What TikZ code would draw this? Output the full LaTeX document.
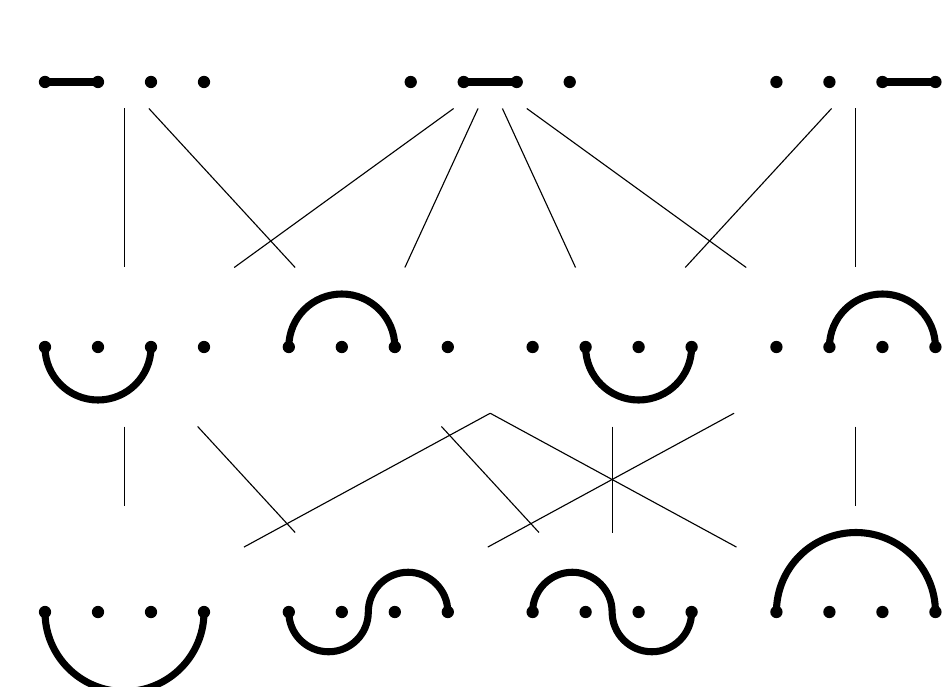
\documentclass[tikz,border=0pt]{standalone}
\usetikzlibrary{calc}
\tikzset{
  dot/.style={circle, fill=black, inner sep=0pt, minimum size=6.6pt},
  strand/.style={line width=3.8pt},
  link/.style={line width=0.6pt}
}

\begin{document}
\begin{tikzpicture}
\useasboundingbox (-0.849,-1.396) rectangle (16.943,11.547);

%% Top row
\node[dot] (t1a) at ( 0.0,10) {}; \node[dot] (t1b) at ( 1.0,10) {}; \node[dot] (t1c) at ( 2.0,10) {}; \node[dot] (t1d) at ( 3.0,10) {};
\node[dot] (t2a) at ( 6.9,10) {}; \node[dot] (t2b) at ( 7.9,10) {}; \node[dot] (t2c) at ( 8.9,10) {}; \node[dot] (t2d) at ( 9.9,10) {};
\node[dot] (t3a) at (13.8,10) {}; \node[dot] (t3b) at (14.8,10) {}; \node[dot] (t3c) at (15.8,10) {}; \node[dot] (t3d) at (16.8,10) {};
\coordinate (t1) at ( 1.5,10);
\coordinate (t2) at ( 8.4,10);
\coordinate (t3) at (15.3,10);

%% Middle row
\node[dot] (m1a) at ( 0.0,5) {}; \node[dot] (m1b) at ( 1.0,5) {}; \node[dot] (m1c) at ( 2.0,5) {}; \node[dot] (m1d) at ( 3.0,5) {};
\node[dot] (m2a) at ( 4.6,5) {}; \node[dot] (m2b) at ( 5.6,5) {}; \node[dot] (m2c) at ( 6.6,5) {}; \node[dot] (m2d) at ( 7.6,5) {};
\node[dot] (m3a) at ( 9.2,5) {}; \node[dot] (m3b) at (10.2,5) {}; \node[dot] (m3c) at (11.2,5) {}; \node[dot] (m3d) at (12.2,5) {};
\node[dot] (m4a) at (13.8,5) {}; \node[dot] (m4b) at (14.8,5) {}; \node[dot] (m4c) at (15.8,5) {}; \node[dot] (m4d) at (16.8,5) {};
\coordinate (m1) at ( 1.5,5);
\coordinate (m2) at ( 6.1,5);
\coordinate (m3) at (10.7,5);
\coordinate (m4) at (15.3,5);

%% Bottom row
\node[dot] (b1a) at ( 0.0,0) {}; \node[dot] (b1b) at ( 1.0,0) {}; \node[dot] (b1c) at ( 2.0,0) {}; \node[dot] (b1d) at ( 3.0,0) {};
\node[dot] (b2a) at ( 4.6,0) {}; \node[dot] (b2b) at ( 5.6,0) {}; \node[dot] (b2c) at ( 6.6,0) {}; \node[dot] (b2d) at ( 7.6,0) {};
\node[dot] (b3a) at ( 9.2,0) {}; \node[dot] (b3b) at (10.2,0) {}; \node[dot] (b3c) at (11.2,0) {}; \node[dot] (b3d) at (12.2,0) {};
\node[dot] (b4a) at (13.8,0) {}; \node[dot] (b4b) at (14.8,0) {}; \node[dot] (b4c) at (15.8,0) {}; \node[dot] (b4d) at (16.8,0) {};
\coordinate (b1) at ( 1.5,0);
\coordinate (b2) at ( 6.1,0);
\coordinate (b3) at (10.7,0);
\coordinate (b4) at (15.3,0);

%% ── strands
\draw[strand] (t1a.center) -- (t1b.center);
\draw[strand] (t2b.center) -- (t2c.center);
\draw[strand] (t3c.center) -- (t3d.center);

\draw[strand] (m1a.center) arc[start angle=180, end angle=360, radius=1];
\draw[strand] (m2a.center) arc[start angle=180, end angle=0, radius=1];
\draw[strand] (m3b.center) arc[start angle=180, end angle=360, radius=1];
\draw[strand] (m4b.center) arc[start angle=180, end angle=0, radius=1];

\draw[strand] (b1a.center) arc[start angle=180, end angle=360, radius=1.5];
\draw[strand] (b2a.center) arc[start angle=180, end angle=360, radius=0.75]
  arc[start angle=180, end angle=0, radius=0.75];
\draw[strand] (b3a.center) arc[start angle=180, end angle=0, radius=0.75]
  arc[start angle=180, end angle=360, radius=0.75];
\draw[strand] (b4a.center) arc[start angle=180, end angle=0, radius=1.5];

%% ── top → middle
\draw[link] ($(t1)!0.1!(m1)$) -- ($(t1)!0.7!(m1)$);
\draw[link] ($(t1)!0.1!(m2)$) -- ($(t1)!0.7!(m2)$);
\draw[link] ($(t2)!0.1!(m1)$) -- ($(t2)!0.7!(m1)$);
\draw[link] ($(t2)!0.1!(m2)$) -- ($(t2)!0.7!(m2)$);
\draw[link] ($(t2)!0.1!(m3)$) -- ($(t2)!0.7!(m3)$);
\draw[link] ($(t2)!0.1!(m4)$) -- ($(t2)!0.7!(m4)$);
\draw[link] ($(t3)!0.1!(m3)$) -- ($(t3)!0.7!(m3)$);
\draw[link] ($(t3)!0.1!(m4)$) -- ($(t3)!0.7!(m4)$);

%% ── middle → bottom
\draw[link] ($(m1)!0.3!(b1)$) -- ($(m1)!0.6!(b1)$);
\draw[link] ($(m1)!0.3!(b2)$) -- ($(m1)!0.7!(b2)$);
\draw[link] ($(m3)!0.25!(b1)$) -- ($(m3)!0.755!(b1)$);
\draw[link] ($(m2)!0.3!(b3)$) -- ($(m2)!0.7!(b3)$);
\draw[link] ($(m2)!0.25!(b4)$) -- ($(m2)!0.755!(b4)$);
\draw[link] ($(m3)!0.3!(b3)$) -- ($(m3)!0.7!(b3)$);
\draw[link] ($(m4)!0.25!(b2)$) -- ($(m4)!0.755!(b2)$);
\draw[link] ($(m4)!0.3!(b4)$) -- ($(m4)!0.6!(b4)$);

\end{tikzpicture}
\end{document}
